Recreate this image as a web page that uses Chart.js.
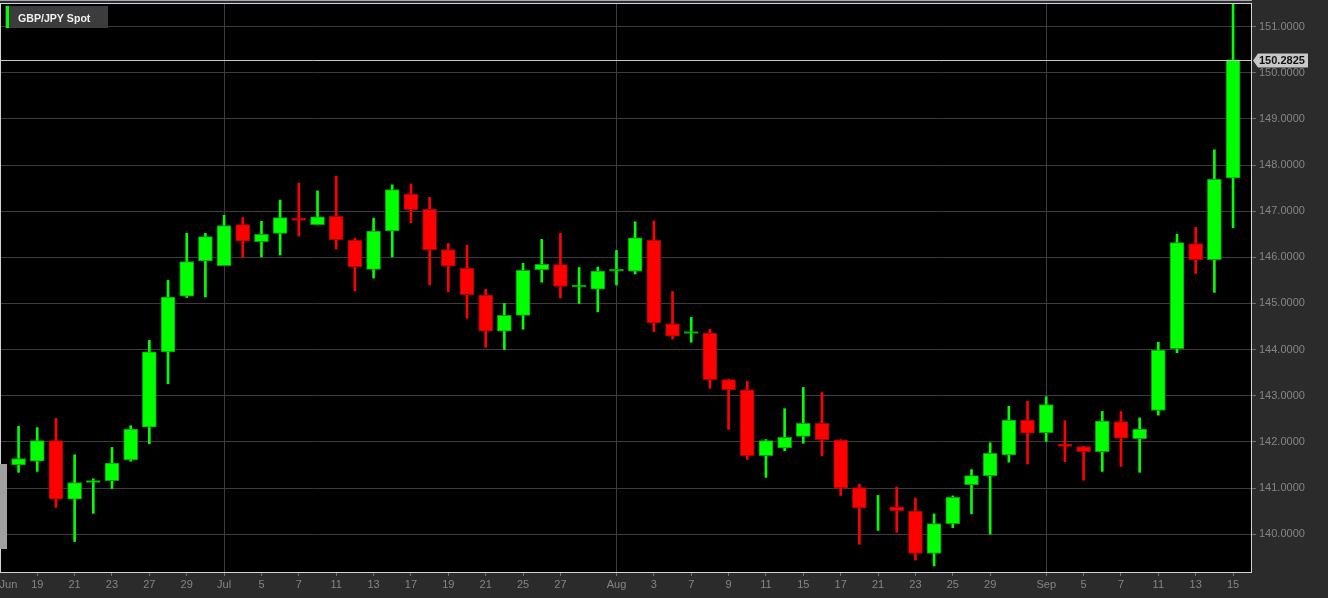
<!DOCTYPE html>
<html>
<head>
<meta charset="utf-8">
<title>GBP/JPY Spot</title>
<script src="https://cdn.jsdelivr.net/npm/chart.js@4.4.1/dist/chart.umd.min.js"></script>
<style>
  html, body { margin: 0; padding: 0; background: #2b2b2b; overflow: hidden; }
  #wrap { width: 1328px; height: 598px; position: relative; }
</style>
</head>
<body>
<div id="wrap"><canvas id="chart"></canvas></div>
<script>
// ── Data (daily candles, Jun 16 – Sep 15) ───────

var days = [
  "Jun 16", "Jun 19", "Jun 20", "Jun 21", "Jun 22", "Jun 23", "Jun 26", "Jun 27", "Jun 28", "Jun 29",
  "Jun 30", "Jul 3", "Jul 4", "Jul 5", "Jul 6", "Jul 7", "Jul 10", "Jul 11", "Jul 12", "Jul 13",
  "Jul 14", "Jul 17", "Jul 18", "Jul 19", "Jul 20", "Jul 21", "Jul 24", "Jul 25", "Jul 26", "Jul 27",
  "Jul 28", "Jul 31", "Aug 1", "Aug 2", "Aug 3", "Aug 4", "Aug 7", "Aug 8", "Aug 9", "Aug 10",
  "Aug 11", "Aug 14", "Aug 15", "Aug 16", "Aug 17", "Aug 18", "Aug 21", "Aug 22", "Aug 23", "Aug 24",
  "Aug 25", "Aug 28", "Aug 29", "Aug 30", "Aug 31", "Sep 1", "Sep 4", "Sep 5", "Sep 6", "Sep 7",
  "Sep 8", "Sep 11", "Sep 12", "Sep 13", "Sep 14", "Sep 15"
];

var open = [
  141.50, 141.58, 142.03, 140.76, 141.12, 141.16, 141.61, 142.32, 143.95, 145.16,
  145.92, 145.82, 146.71, 146.34, 146.52, 146.85, 146.71, 146.89, 146.37, 145.74,
  146.57, 147.37, 147.04, 146.17, 145.76, 145.18, 144.40, 144.74, 145.73, 145.84,
  145.36, 145.31, 145.70, 145.70, 146.37, 144.56, 144.35, 144.36, 143.35, 143.13,
  141.70, 141.87, 142.12, 142.40, 142.04, 141.01, 140.45, 140.59, 140.50, 139.58,
  140.23, 141.07, 141.27, 141.72, 142.47, 142.20, 141.95, 141.90, 141.79, 142.44,
  142.07, 142.68, 144.02, 146.30, 145.95, 147.72
];

var high = [
  142.34, 142.31, 142.51, 141.72, 141.20, 141.88, 142.35, 144.20, 145.50, 146.52,
  146.52, 146.91, 146.86, 146.78, 147.24, 147.61, 147.44, 147.76, 146.41, 146.85,
  147.57, 147.59, 147.30, 146.30, 146.26, 145.31, 145.00, 145.87, 146.39, 146.52,
  145.78, 145.79, 146.15, 146.77, 146.79, 145.26, 144.70, 144.44, 143.36, 143.31,
  142.05, 142.72, 143.18, 143.07, 142.05, 141.08, 140.84, 141.02, 140.78, 140.44,
  140.83, 141.40, 141.98, 142.77, 142.88, 142.98, 142.46, 141.91, 142.66, 142.66,
  142.52, 144.16, 146.50, 146.65, 148.33, 151.50
];

var low = [
  141.34, 141.36, 140.58, 139.84, 140.45, 140.99, 141.58, 141.96, 143.26, 145.13,
  145.14, 145.82, 146.00, 146.01, 146.05, 146.46, 146.70, 146.18, 145.27, 145.55,
  146.01, 146.75, 145.40, 145.25, 144.68, 144.05, 144.00, 144.44, 145.46, 145.12,
  145.00, 144.82, 145.40, 145.64, 144.39, 144.23, 144.16, 143.16, 142.27, 141.62,
  141.23, 141.81, 141.97, 141.70, 140.84, 139.78, 140.08, 140.04, 139.44, 139.31,
  140.14, 140.44, 140.00, 141.56, 141.52, 142.01, 141.57, 141.17, 141.36, 141.47,
  141.34, 142.58, 143.93, 145.65, 145.24, 146.64
];

var close = [
  141.64, 142.03, 140.76, 141.12, 141.16, 141.54, 142.28, 143.95, 145.14, 145.91,
  146.45, 146.69, 146.35, 146.50, 146.86, 146.80, 146.88, 146.38, 145.79, 146.57,
  147.47, 147.03, 146.16, 145.81, 145.19, 144.40, 144.74, 145.72, 145.85, 145.37,
  145.40, 145.70, 145.74, 146.42, 144.58, 144.29, 144.39, 143.35, 143.13, 141.70,
  142.03, 142.10, 142.40, 142.05, 141.00, 140.57, 140.45, 140.51, 139.58, 140.23,
  140.80, 141.27, 141.75, 142.47, 142.19, 142.81, 141.90, 141.79, 142.45, 142.08,
  142.28, 143.99, 146.32, 145.95, 147.69, 150.2825
];

// x tick labels sit on candle indices (Jun label shifted to stay inside the plot)
var xTickPos = [-0.54, 1, 3, 5, 7, 9, 11, 13, 15, 17, 19, 21, 23, 25, 27, 29, 32, 34, 36, 38, 40, 42, 44, 46, 48, 50, 52, 55, 57, 59, 61, 63, 65];
var xTickText = ["Jun", "19", "21", "23", "27", "29", "Jul", "5", "7", "11", "13", "17", "19", "21", "25", "27", "Aug", "3", "7", "9", "11", "15", "17", "21", "23", "25", "29", "Sep", "5", "7", "11", "13", "15"];
var monthLines = ["Jul", "Aug", "Sep"];

var yTicks = [140, 141, 142, 143, 144, 145, 146, 147, 148, 149, 150, 151];

var seriesName = "GBP/JPY Spot";

(function () {
  "use strict";

  var FONT = "'Liberation Sans', Arial, sans-serif";
  var UP = "#00ff00", DOWN = "#ff0000";
  var UP_EDGE = "#00a000", DOWN_EDGE = "#a80000";

  function isUp(i) { return close[i] >= open[i]; }

  var bodies = [], wicks = [];
  for (var i = 0; i < days.length; i++) {
    bodies.push({ x: i, y: [open[i], close[i]] });
    wicks.push({ x: i, y: [low[i], high[i]] });
  }

  // scales should not reserve room for edge labels
  function noEdgePad(s) {
    s.paddingTop = 0; s.paddingBottom = 0;
    s.paddingLeft = 0; s.paddingRight = 0;
  }

  // ── Chrome: backgrounds, frame, legend, last price tag ──

  var chrome = {
    id: "chrome",
    beforeDraw: function (chart) {
      var c = chart.ctx, a = chart.chartArea;
      c.save();
      c.fillStyle = "#2b2b2b";
      c.fillRect(0, 0, chart.width, chart.height);
      c.fillStyle = "#000";
      c.fillRect(a.left, a.top, a.right - a.left, a.bottom - a.top);
      c.restore();
    },
    afterDatasetsDraw: function (chart) {
      var c = chart.ctx, a = chart.chartArea;
      var last = close[close.length - 1];
      var y = Math.round(chart.scales.y.getPixelForValue(last)) + 0.5;
      c.save();
      c.strokeStyle = "#c8c8c8";
      c.lineWidth = 1;
      c.beginPath();
      c.moveTo(a.left, y);
      c.lineTo(a.right, y);
      c.stroke();
      c.restore();
    },
    afterDraw: function (chart) {
      var c = chart.ctx, a = chart.chartArea;
      c.save();

      // frame
      c.strokeStyle = "#d2d2da";
      c.lineWidth = 1;
      c.strokeRect(a.left - 0.5, a.top - 0.5, a.right - a.left + 1, a.bottom - a.top + 1);
      c.strokeStyle = "#a8a8b4";
      c.beginPath();
      c.moveTo(0, 0.5);
      c.lineTo(a.right + 1, 0.5);
      c.stroke();

      // left scroll marker
      c.fillStyle = "#a0a0a0";
      c.fillRect(0, 464, 7, 85);

      // legend box
      c.fillStyle = "#3c3c3c";
      c.fillRect(5, 6, 103, 22);
      c.fillStyle = UP;
      c.fillRect(6, 6, 3, 22);
      c.fillStyle = "#f0f0f0";
      c.font = "bold 10.6px " + FONT;
      c.textBaseline = "alphabetic";
      c.textAlign = "left";
      c.fillText(seriesName, 18, 22);

      // last price tag
      var last = close[close.length - 1];
      var y = Math.round(chart.scales.y.getPixelForValue(last)) + 0.5;
      var x0 = a.right + 2;
      c.fillStyle = "#c8c8c8";
      c.beginPath();
      c.moveTo(x0, y);
      c.lineTo(x0 + 5, y - 7);
      c.lineTo(1308, y - 7);
      c.lineTo(1308, y + 7);
      c.lineTo(x0 + 5, y + 7);
      c.closePath();
      c.fill();
      c.fillStyle = "#111";
      c.font = "bold 11px " + FONT;
      c.textBaseline = "middle";
      c.fillText(last.toFixed(4), 1259, y + 0.5);

      c.restore();
    }
  };

  // ── Chart ───────────────────────────────────────

  new Chart(document.getElementById("chart"), {
    type: "bar",
    data: {
      datasets: [
        {
          label: "wick", data: wicks, grouped: false, order: 2,
          barThickness: 2, borderWidth: 0,
          backgroundColor: function (ctx) { return isUp(ctx.dataIndex) ? UP : DOWN; }
        },
        {
          label: seriesName, data: bodies, grouped: false, order: 1,
          barThickness: 14, borderWidth: 1, borderSkipped: false,
          backgroundColor: function (ctx) { return isUp(ctx.dataIndex) ? UP : DOWN; },
          borderColor: function (ctx) { return isUp(ctx.dataIndex) ? UP_EDGE : DOWN_EDGE; }
        }
      ]
    },
    options: {
      responsive: true, maintainAspectRatio: false, animation: false, events: [],
      layout: { padding: { top: 4, left: 1, right: 0, bottom: 0 } },
      plugins: { legend: { display: false }, tooltip: { enabled: false } },
      scales: {
        x: {
          type: "linear", min: -0.94, max: 65.96, offset: false,
          afterBuildTicks: function (s) { s.ticks = xTickPos.map(function (v) { return { value: v }; }); },
          afterFit: function (s) { s.height = 26; noEdgePad(s); },
          border: { display: false },
          grid: {
            offset: false, tickLength: 4,
            color: function (ctx) { return ctx.tick && monthLines.indexOf(xTickText[ctx.index]) >= 0 ? "#3c3c3c" : "rgba(0,0,0,0)"; },
            tickColor: function (ctx) { return ctx.index === 0 ? "rgba(0,0,0,0)" : "#707070"; }
          },
          ticks: {
            autoSkip: false, maxRotation: 0, minRotation: 0, padding: 2,
            color: "#858585", font: { family: FONT, size: 11 },
            callback: function (v, i) { return xTickText[i]; }
          }
        },
        y: {
          position: "right", min: 139.18, max: 151.49,
          afterBuildTicks: function (s) { s.ticks = yTicks.map(function (v) { return { value: v }; }); },
          afterFit: function (s) { s.width = 77; noEdgePad(s); },
          border: { display: false },
          grid: { color: "#3c3c3c", tickColor: "#707070", tickLength: 5 },
          ticks: {
            padding: 3, color: "#858585", font: { family: FONT, size: 11 },
            callback: function (v) { return Number(v).toFixed(4); }
          }
        }
      }
    },
    plugins: [chrome]
  });
})();
</script>
</body>
</html>
